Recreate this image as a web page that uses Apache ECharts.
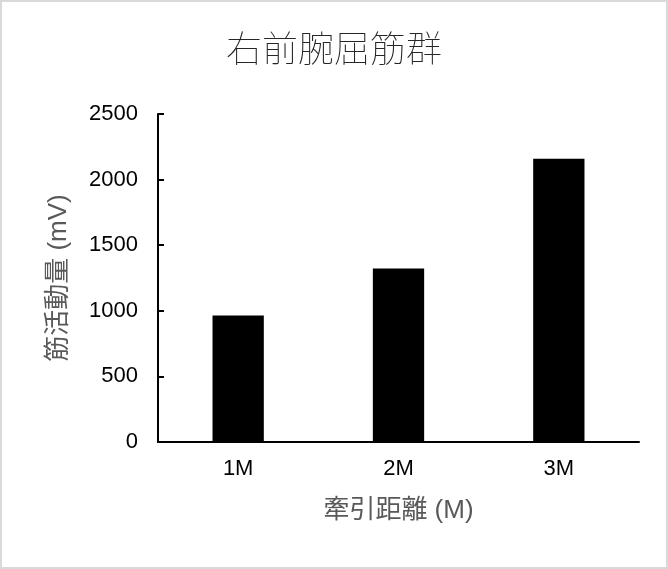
<!DOCTYPE html>
<html>
<head>
<meta charset="utf-8">
<script src="https://cdn.jsdelivr.net/npm/echarts@6/dist/echarts.min.js"></script>
<style>
html,body{margin:0;padding:0;background:#fff;}
#chart{width:668px;height:569px;box-sizing:border-box;border:2px solid #d9d9d9;}
</style>
</head>
<body>
<div id="chart"></div>
<script>
const titleText = '右前腕屈筋群';
const categories = ['1M', '2M', '3M'];
const values = [965, 1322, 2158];
const xAxisTitle = '牽引距離 (M)';
const yAxisTitle = '筋活動量 (mV)';

const cjk = '"Liberation Sans", Arial, "Noto Sans CJK JP", sans-serif';
const chart = echarts.init(document.getElementById('chart'));
chart.setOption({
  animation: false,
  backgroundColor: '#fff',
  title: {
    text: titleText,
    left: 'center',
    top: 32,
    padding: 0,
    textStyle: { fontFamily: cjk, fontSize: 36, fontWeight: 'lighter', color: '#262626' }
  },
  grid: { left: 156, right: 27, top: 112, bottom: 125 },
  xAxis: {
    type: 'category',
    data: categories,
    name: xAxisTitle,
    nameLocation: 'middle',
    nameGap: 56,
    nameTextStyle: { fontFamily: cjk, fontSize: 26, color: '#595959' },
    axisLine: { lineStyle: { color: '#000', width: 2 } },
    axisTick: { show: false },
    axisLabel: { margin: 16, fontFamily: cjk, fontSize: 22, color: '#000' }
  },
  yAxis: {
    type: 'value',
    min: 0,
    max: 2500,
    interval: 500,
    name: yAxisTitle,
    nameLocation: 'middle',
    nameGap: 86,
    nameRotate: 90,
    nameTextStyle: { fontFamily: cjk, fontSize: 26, color: '#595959' },
    axisLine: { show: true, lineStyle: { color: '#000', width: 2 } },
    axisTick: { show: true, inside: true, length: 6, lineStyle: { color: '#000', width: 2 } },
    axisLabel: { margin: 20, fontFamily: cjk, fontSize: 22, color: '#000', formatter: (v) => String(v) },
    splitLine: { show: false }
  },
  series: [{
    type: 'bar',
    data: values,
    barWidth: '32%',
    itemStyle: { color: '#000' }
  }]
});
</script>
</body>
</html>
